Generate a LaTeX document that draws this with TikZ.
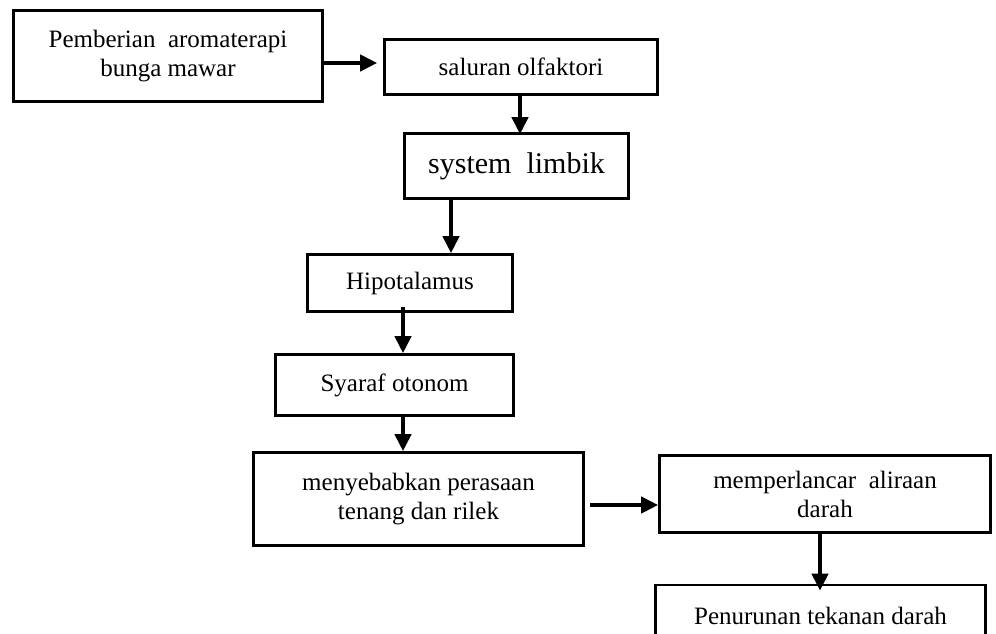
\documentclass[tikz,border=0pt]{standalone}
\usepackage{fontspec}
\setmainfont{Liberation Serif}
\usetikzlibrary{arrows.meta}
\begin{document}
\begin{tikzpicture}[x=1pt,y=-1pt,
  box/.style={draw=black, line width=2.6pt, inner sep=0pt, align=center,
    font=\fontsize{25}{29}\selectfont},
  arr/.style={line width=4pt, -{Triangle[length=17pt,width=16pt]}}]
\useasboundingbox (0,0) rectangle (996,634);
\clip (0,0) rectangle (996,634);
\node[box, minimum width=309pt, minimum height=91pt] (b1) at (168,56) {Pemberian\ \ aromaterapi\\bunga mawar};
\node[box, minimum width=273pt, minimum height=55pt] (b2) at (521,67) {saluran olfaktori};
\node[box, minimum width=224pt, minimum height=65pt, font=\fontsize{30}{34}\selectfont] (b3) at (516.5,166) {system\ \ limbik};
\node[box, minimum width=205pt, minimum height=57pt] (b4) at (410,283) {Hipotalamus};
\node[box, minimum width=238pt, minimum height=61pt] (b5) at (394.5,385) {Syaraf otonom};
\node[box, minimum width=330pt, minimum height=93pt] (b6) at (418.5,499) {menyebabkan perasaan\\tenang dan rilek};
\node[box, minimum width=331pt, minimum height=77pt] (b7) at (825,494) {memperlancar\ \ aliraan\\darah};
\node[box, minimum width=330pt, minimum height=62pt] (b8) at (820.5,616) {Penurunan tekanan darah};
\draw[arr] (b1.east |- 0,63) -- ([xshift=-6pt]b2.west |- 0,63);
\draw[arr] (b2.south -| 520,0) -- ([yshift=-2pt]b3.north -| 520,0);
\draw[arr] ([yshift=3pt]b3.south -| 451,0) -- (b4.north -| 451,0);
\draw[arr] ([yshift=6pt]b4.south -| 403,0) -- (b5.north -| 403,0);
\draw[arr] (b5.south -| 403,0) -- (b6.north -| 403,0);
\draw[arr] ([xshift=5pt]b6.east |- 0,505) -- (b7.west |- 0,505);
\draw[arr] (b7.south -| 820,0) -- ([yshift=-7pt]b8.north -| 820,0);
\end{tikzpicture}
\end{document}
